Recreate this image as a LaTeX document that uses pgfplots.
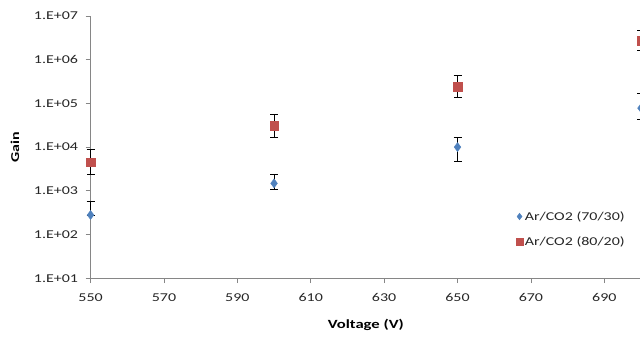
\documentclass[border=0pt]{standalone}
\usepackage{pgfplots}
\pgfplotsset{compat=1.18}
\usepackage{pgfplotstable}
\usepackage{fontspec}
\setmainfont{Carlito}[FakeStretch=1.33]
\usetikzlibrary{calc}
\definecolor{xlblue}{HTML}{4F81BD}
\definecolor{xlred}{HTML}{C0504D}
\definecolor{axgray}{HTML}{868686}

\pgfplotstableread{
x y ep em
550 280 280 0
600 1480 890 430
650 10000 6600 5200
700 78000 88000 36000
}\blue

\pgfplotstableread{
x y ep em
550 4570 4130 2140
600 31000 24000 14000
650 240000 190000 105000
700 2750000 1950000 1150000
}\red

\begin{document}
\begin{tikzpicture}
\begin{axis}[
  scale only axis,
  width=550pt, height=262pt,
  ymode=log,
  xmin=550, xmax=700,
  ymin=10, ymax=1e7,
  clip=false,
  axis lines*=left,
  axis line style={axgray, line width=0.8pt},
  tick style={axgray, line width=0.8pt},
  tick align=outside,
  major tick length=5pt,
  xtick={550,570,590,610,630,650,670,690},
  ytick={1e1,1e2,1e3,1e4,1e5,1e6,1e7},
  yticklabels={1.E+01,1.E+02,1.E+03,1.E+04,1.E+05,1.E+06,1.E+07},
  minor tick num=0,
  yminorticks=false,
  /pgf/number format/assume math mode=true,
  /pgf/number format/1000 sep={},
  ticklabel style={font=\fontsize{12}{14}\selectfont, text=black!85},
  yticklabel style={xshift=-4pt},
  xticklabel style={yshift=-7pt},
  xlabel={Voltage (V)},
  ylabel={Gain},
  every axis x label/.style={font=\bfseries\fontsize{12.5}{14}\selectfont, at={(rel axis cs:0.5,-0.179)}, anchor=center},
  every axis y label/.style={font=\bfseries\fontsize{12}{14}\selectfont, at={(rel axis cs:-0.1373,0.5)}, anchor=center, rotate=90},
  legend style={draw=none, fill=none, at={(rel axis cs:0.773,0.187)}, anchor=west,
    font=\fontsize{12}{14}\selectfont, row sep=11pt, text=black!85, inner xsep=0pt},
  legend cell align=left,
  legend image code/.code={\draw[#1, mark size=3.3pt] plot coordinates {(0pt,0pt)};},
  error bars/error bar style={black, line width=0.8pt},
  error bars/error mark options={rotate=90, mark size=4pt, black, line width=0.8pt},
]
\addplot[only marks, mark=diamond*, mark size=4.5pt, color=xlblue,
  error bars/.cd, y dir=both, y explicit]
  table[x=x, y=y, y error plus=ep, y error minus=em] {\blue};
\addlegendentry{Ar/CO2 (70/30)}
\addplot[only marks, mark=square*, mark size=4.2pt, color=xlred,
  error bars/.cd, y dir=both, y explicit]
  table[x=x, y=y, y error plus=ep, y error minus=em] {\red};
\addlegendentry{Ar/CO2 (80/20)}
\end{axis}
\pgfresetboundingbox
\useasboundingbox ($(current axis.south west)+(-90.5pt,-58pt)$) rectangle ($(current axis.north east)+(-1pt,16pt)$);
\end{tikzpicture}
\end{document}
